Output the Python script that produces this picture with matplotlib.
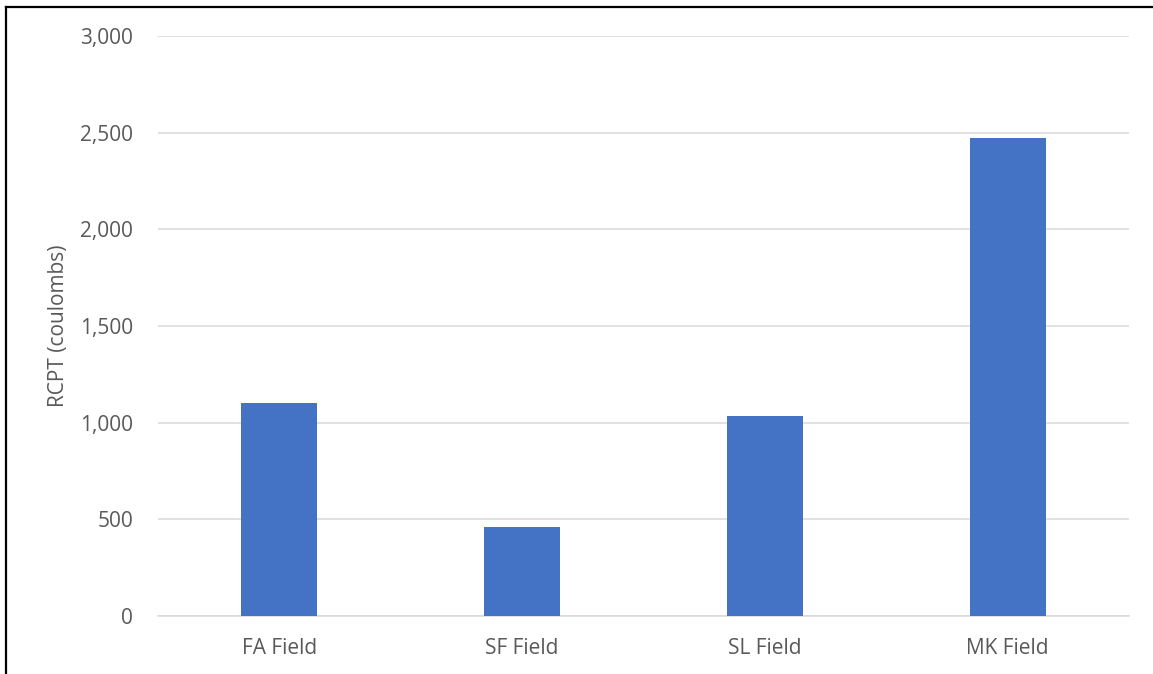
import numpy as np
import matplotlib.pyplot as plt
from matplotlib.lines import Line2D
from matplotlib.ticker import FuncFormatter

# Field sites and their rapid chloride penetration test results
fields = ['FA Field', 'SF Field', 'SL Field', 'MK Field']
rcpt = [1100, 460, 1035, 2475]

yticks = [0, 500, 1000, 1500, 2000, 2500, 3000]

plt.rcParams['font.family'] = ['Open Sans', 'DejaVu Sans']
grey = '#595959'

W, H = 1153, 674
fig = plt.figure(figsize=(W / 100, H / 100), dpi=100)
ax = fig.add_axes([158 / W, 1 - 616 / H, (1129 - 158) / W, (616 - 36) / H])

x = np.arange(len(fields))
ax.bar(x, rcpt, width=0.313, color='#4472C4', zorder=3)

ax.set_xlim(-0.5, len(fields) - 0.5)
ax.set_ylim(0, 3000)
ax.set_yticks(yticks)
ax.yaxis.set_major_formatter(FuncFormatter(lambda v, p: '{:,.0f}'.format(v)))
ax.set_xticks(x)
ax.set_xticklabels(fields)

ax.grid(axis='y', color='#D9D9D9', linewidth=1.1, zorder=0)
for s in ['top', 'right', 'left']:
    ax.spines[s].set_visible(False)
ax.spines['bottom'].set_color('#D9D9D9')
ax.spines['bottom'].set_linewidth(1.1)

ax.tick_params(axis='both', length=0, labelsize=15, labelcolor=grey)
ax.tick_params(axis='y', pad=18)
ax.tick_params(axis='x', pad=16)
ax.set_ylabel('RCPT (coulombs)', fontsize=15, color=grey, labelpad=8)

# black frame along the left and top edges
fig.add_artist(Line2D([5.5 / W, 5.5 / W], [0, 1 - 7 / H], transform=fig.transFigure,
                      color='black', linewidth=1.6))
fig.add_artist(Line2D([5.5 / W, 1], [1 - 7 / H, 1 - 7 / H], transform=fig.transFigure,
                      color='black', linewidth=1.6))

fig.savefig('out.png', dpi=100, facecolor='white')
